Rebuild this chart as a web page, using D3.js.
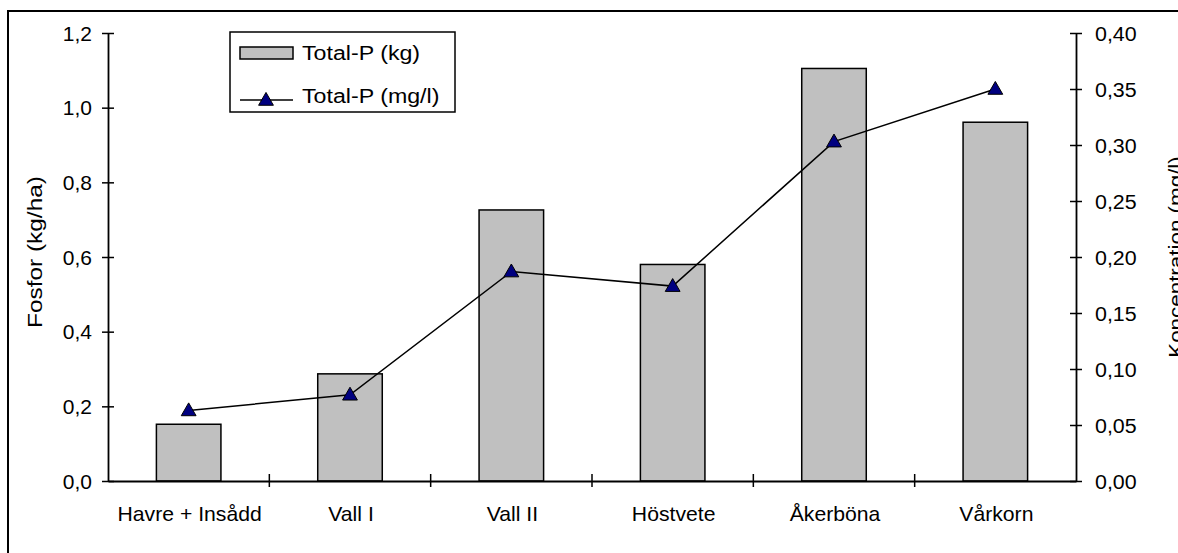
<!DOCTYPE html>
<html><head><meta charset="utf-8">
<script src="https://cdn.jsdelivr.net/npm/d3@7"></script>
<style>
html,body{margin:0;padding:0;background:#fff;}
svg{display:block;}
text{font-family:"Liberation Sans",Arial,sans-serif;fill:#000;}
</style></head>
<body>
<svg id="c" width="1178" height="553"></svg>
<script>
const categories = ["Havre + Insådd","Vall I","Vall II","Höstvete","Åkerböna","Vårkorn"];
const totalPkg = [0.152,0.287,0.726,0.580,1.105,0.961];
const totalPmgl = [0.063,0.077,0.187,0.174,0.303,0.350];
const leftTicks = [0,0.2,0.4,0.6,0.8,1.0,1.2];
const rightTicks = [0,0.05,0.10,0.15,0.20,0.25,0.30,0.35,0.40];
const seriesNames = ["Total-P (kg)","Total-P (mg/l)"];
const leftTitle = "Fosfor (kg/ha)";
const rightTitle = "Koncentration (mg/l)";

const svg = d3.select("#c");
const L = 108, R = 1076, T = 33, B = 481;
const FS = 20;

svg.append("rect").attr("x",8).attr("y",11).attr("width",1300).attr("height",700)
  .attr("fill","none").attr("stroke","#000").attr("stroke-width",2);

const x = d3.scaleBand().domain(categories).range([L,R]).paddingInner(0).paddingOuter(0);
const yL = d3.scaleLinear().domain([0,1.2]).range([B,T]);
const yR = d3.scaleLinear().domain([0,0.40]).range([B,T]);
const fmt1 = v => d3.format(".1f")(v).replace(".",",");
const fmt2 = v => d3.format(".2f")(v).replace(".",",");

// bars
const bw = x.bandwidth()*0.4;
svg.append("g").selectAll("rect").data(categories).join("rect")
  .attr("x",(d)=>x(d)+x.bandwidth()/2-bw/2)
  .attr("y",(d,i)=>yL(totalPkg[i]))
  .attr("width",bw)
  .attr("height",(d,i)=>yL(0)-yL(totalPkg[i]))
  .attr("fill","#c0c0c0").attr("stroke","#000").attr("stroke-width",1.5);

// left axis
const gl = svg.append("g").attr("transform",`translate(${L},0)`)
  .call(d3.axisLeft(yL).tickValues(leftTicks).tickFormat(fmt1).tickSizeInner(6).tickSizeOuter(0).tickPadding(0));
gl.select(".domain").attr("stroke-width",1.8);
gl.selectAll(".tick line").attr("x1",6).attr("x2",-6).attr("stroke-width",1.5);
gl.selectAll(".tick text").attr("font-family",null).attr("font-size",FS)
  .attr("x",0).attr("dy","0.36em").attr("transform",`translate(-16,0) scale(1.05,1)`);

// right axis
const gr = svg.append("g").attr("transform",`translate(${R},0)`)
  .call(d3.axisRight(yR).tickValues(rightTicks).tickFormat(fmt2).tickSizeInner(6).tickSizeOuter(0).tickPadding(0));
gr.select(".domain").attr("stroke-width",1.8);
gr.selectAll(".tick line").attr("x1",-6).attr("x2",6).attr("stroke-width",1.5);
gr.selectAll(".tick text").attr("font-family",null).attr("font-size",FS)
  .attr("x",0).attr("dy","0.36em").attr("transform",`translate(19,0) scale(1.07,1)`);

// bottom axis
const gb = svg.append("g").attr("transform",`translate(0,${B})`)
  .call(d3.axisBottom(x).tickSize(0).tickSizeOuter(0).tickPadding(0));
gb.select(".domain").attr("stroke-width",1.8);
gb.selectAll(".tick line").remove();
gb.selectAll(".tick text").attr("font-family",null).attr("font-size",FS)
  .attr("y",0).attr("dy",0).attr("transform",`translate(1,40) scale(1.06,1)`);
// category boundary ticks
const bounds = categories.slice(1).map(c=>x(c));
svg.append("g").selectAll("line").data(bounds).join("line")
  .attr("x1",d=>d).attr("x2",d=>d).attr("y1",B-7).attr("y2",B+6)
  .attr("stroke","#000").attr("stroke-width",1.5);

// line series
const cx = (d)=>x(d)+x.bandwidth()/2;
const line = d3.line().x((d,i)=>cx(categories[i])).y(d=>yR(d));
svg.append("path").datum(totalPmgl).attr("d",line)
  .attr("fill","none").attr("stroke","#000").attr("stroke-width",1.5);
const tri = d3.symbol().type(d3.symbolTriangle).size(95);
svg.append("g").selectAll("path").data(totalPmgl).join("path")
  .attr("d",tri)
  .attr("transform",(d,i)=>`translate(${cx(categories[i])},${yR(d)+1})`)
  .attr("fill","#000080").attr("stroke","#000").attr("stroke-width",1);

// axis titles
svg.append("text").attr("font-size",FS).attr("text-anchor","middle")
  .attr("transform",`translate(42,252) rotate(-90) scale(1.22,1)`).text(leftTitle);
svg.append("text").attr("font-size",FS).attr("text-anchor","middle")
  .attr("transform",`translate(1183,257) rotate(-90) scale(1.12,1)`).text(rightTitle);

// legend
const lg = svg.append("g");
lg.append("rect").attr("x",230).attr("y",32).attr("width",225).attr("height",80)
  .attr("fill","#fff").attr("stroke","#000").attr("stroke-width",1.5);
lg.append("rect").attr("x",240).attr("y",47).attr("width",53).attr("height",12)
  .attr("fill","#c0c0c0").attr("stroke","#000").attr("stroke-width",1.5);
lg.append("line").attr("x1",240).attr("x2",293).attr("y1",100).attr("y2",100)
  .attr("stroke","#000").attr("stroke-width",1.5);
lg.append("path").attr("d",tri).attr("transform","translate(266,101)")
  .attr("fill","#000080").attr("stroke","#000").attr("stroke-width",1);
lg.append("text").attr("font-size",FS).attr("transform",`translate(302,60) scale(1.16,1)`).text(seriesNames[0]);
lg.append("text").attr("font-size",FS).attr("transform",`translate(302,102.5) scale(1.16,1)`).text(seriesNames[1]);
</script>
</body></html>
